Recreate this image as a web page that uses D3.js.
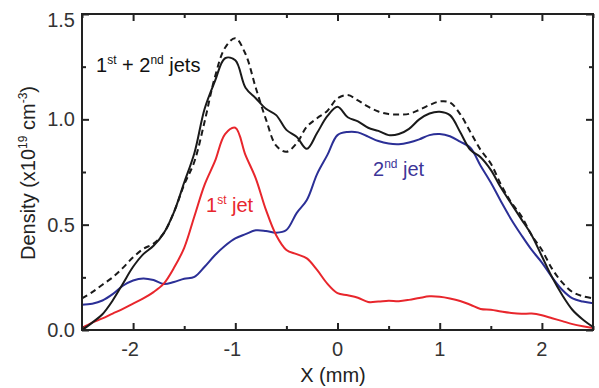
<!DOCTYPE html>
<html>
<head>
<meta charset="utf-8">
<script src="https://cdn.jsdelivr.net/npm/d3@7"></script>
<style>
  body { margin: 0; background: #fff; }
  text { font-family: "Liberation Sans", Arial, sans-serif; }
</style>
</head>
<body>
<script>
// chart size
var svgWidth = 599;
var svgHeight = 388;

// x positions (mm), one value every 0.1 mm
var xs = d3.range(51).map(function(i){ return Math.round((-2.5 + i * 0.1) * 10) / 10; });

// 1st jet (red)
var jet1 = [0.01, 0.035, 0.055, 0.078, 0.10, 0.125, 0.15, 0.18, 0.22, 0.295,
            0.39, 0.54, 0.69, 0.80, 0.93, 0.96, 0.83, 0.72, 0.57, 0.45,
            0.38, 0.36, 0.34, 0.285, 0.22, 0.175, 0.165, 0.153, 0.133, 0.135,
            0.139, 0.137, 0.143, 0.152, 0.160, 0.158, 0.150, 0.138, 0.12, 0.10,
            0.096, 0.088, 0.081, 0.077, 0.078, 0.07, 0.056, 0.042, 0.028, 0.018, 0.01];

// 2nd jet (blue)
var jet2 = [0.12, 0.125, 0.14, 0.17, 0.21, 0.235, 0.245, 0.237, 0.218, 0.228,
            0.243, 0.252, 0.30, 0.355, 0.40, 0.435, 0.455, 0.473, 0.470, 0.462,
            0.475, 0.555, 0.617, 0.74, 0.83, 0.925, 0.94, 0.938, 0.918, 0.897,
            0.885, 0.882, 0.89, 0.905, 0.925, 0.93, 0.92, 0.894, 0.865, 0.78,
            0.70, 0.61, 0.525, 0.45, 0.38, 0.32, 0.25, 0.19, 0.15, 0.135, 0.127];

// 1st + 2nd jets measured (solid black)
var both = [0.0, 0.035, 0.075, 0.14, 0.22, 0.30, 0.36, 0.40, 0.46, 0.56,
            0.70, 0.84, 1.05, 1.18, 1.29, 1.28, 1.15, 1.10, 1.05, 1.02,
            0.95, 0.917, 0.86, 0.935, 1.015, 1.06, 1.01, 0.99, 0.96, 0.945,
            0.925, 0.93, 0.955, 1.0, 1.028, 1.036, 1.02, 0.94, 0.855, 0.82,
            0.76, 0.675, 0.60, 0.525, 0.45, 0.35, 0.25, 0.165, 0.095, 0.05, 0.015];

// sum of single jets (dashed black)
var sum = [0.15, 0.18, 0.215, 0.25, 0.295, 0.345, 0.385, 0.41, 0.46, 0.56,
           0.69, 0.80, 0.99, 1.20, 1.34, 1.385, 1.31, 1.15, 1.00, 0.875,
           0.846, 0.886, 0.965, 1.005, 1.04, 1.10, 1.115, 1.09, 1.06, 1.037,
           1.025, 1.023, 1.026, 1.045, 1.068, 1.085, 1.08, 1.025, 0.94, 0.855,
           0.79, 0.69, 0.605, 0.54, 0.45, 0.38, 0.29, 0.225, 0.18, 0.16, 0.15];

var xMajor = [-2, -1, 0, 1, 2];
var xMinor = [-2.5, -1.5, -0.5, 0.5, 1.5, 2.5];
var yMajor = [0, 0.5, 1.0, 1.5];
var yMinor = [0.25, 0.75, 1.25];

// plot box (don't call these top/left, window.top is read only)
var pLeft = 82, pRight = 593, pTop = 14, pBottom = 330;

var svg = d3.select("body")
    .append("svg")
    .attr("width", svgWidth)
    .attr("height", svgHeight);

var x = d3.scaleLinear().domain([-2.5, 2.5]).range([pLeft, pRight]);
var y = d3.scaleLinear().domain([0, 1.5]).range([pBottom, pTop]);

var line = d3.line()
    .x(function(d, i){ return x(xs[i]); })
    .y(function(d){ return y(d); })
    .curve(d3.curveCatmullRom);

//curves
svg.append("path").attr("d", line(jet2))
    .attr("fill", "none").attr("stroke", "#2b2f96").attr("stroke-width", 2);
svg.append("path").attr("d", line(jet1))
    .attr("fill", "none").attr("stroke", "#e8262c").attr("stroke-width", 2);
svg.append("path").attr("d", line(sum))
    .attr("fill", "none").attr("stroke", "#1a1a1a").attr("stroke-width", 2)
    .attr("stroke-dasharray", "6,4");
svg.append("path").attr("d", line(both))
    .attr("fill", "none").attr("stroke", "#1a1a1a").attr("stroke-width", 2);

// axes with inward ticks on all four sides
function ticks(axisFn, scale, vals, len, transform) {
    svg.append("g")
        .attr("transform", transform)
        .call(axisFn(scale).tickValues(vals).tickSize(len).tickFormat(""))
        .call(function(g){ g.select(".domain").remove(); })
        .selectAll("line").attr("stroke", "#222").attr("stroke-width", 2);
}
ticks(d3.axisTop, x, xMajor, 7, "translate(0," + pBottom + ")");
ticks(d3.axisTop, x, xMinor, 4, "translate(0," + pBottom + ")");
ticks(d3.axisBottom, x, xMajor, 7, "translate(0," + pTop + ")");
ticks(d3.axisBottom, x, xMinor, 4, "translate(0," + pTop + ")");
ticks(d3.axisRight, y, yMajor, 7, "translate(" + pLeft + ",0)");
ticks(d3.axisRight, y, yMinor, 4, "translate(" + pLeft + ",0)");
ticks(d3.axisLeft, y, yMajor, 7, "translate(" + pRight + ",0)");
ticks(d3.axisLeft, y, yMinor, 4, "translate(" + pRight + ",0)");

svg.append("rect")
    .attr("x", pLeft).attr("y", pTop)
    .attr("width", pRight - pLeft).attr("height", pBottom - pTop)
    .attr("fill", "none").attr("stroke", "#222").attr("stroke-width", 2);

// tick labels
svg.selectAll(".xl").data(xMajor).enter().append("text")
    .attr("x", function(d){ return x(d) - (d < 0 ? 3 : 0); })
    .attr("y", 356)
    .attr("text-anchor", "middle")
    .attr("font-size", 20).attr("fill", "#333")
    .text(function(d){ return d < 0 ? "-" + Math.abs(d) : d; });

svg.selectAll(".yl").data(yMajor).enter().append("text")
    .attr("x", 75)
    .attr("y", function(d){ return d == 1.5 ? y(d) + 13 : y(d) + 7; })
    .attr("text-anchor", "end")
    .attr("font-size", 20).attr("fill", "#333")
    .text(function(d){ return d.toFixed(1); });

// axis titles
svg.append("text")
    .attr("x", 333).attr("y", 382)
    .attr("text-anchor", "middle")
    .attr("font-size", 20).attr("fill", "#222")
    .text("X (mm)");

var yt = svg.append("text")
    .attr("transform", "translate(35,173) rotate(-90)")
    .attr("text-anchor", "middle")
    .attr("font-size", 20).attr("fill", "#222");
yt.append("tspan").text("Density (x10");
yt.append("tspan").attr("font-size", 12).attr("dy", -8).text("19");
yt.append("tspan").attr("dy", 8).text(" cm");
yt.append("tspan").attr("font-size", 12).attr("dy", -8).text("-3");
yt.append("tspan").attr("dy", 8).text(")");

// curve labels
function label(px, py, color, parts) {
    var t = svg.append("text").attr("x", px).attr("y", py)
        .attr("font-size", 20).attr("fill", color);
    parts.forEach(function(p){
        if (p[1]) {
            t.append("tspan").attr("font-size", 12).attr("dy", -8).text(p[0]);
        } else {
            t.append("tspan").attr("dy", p[2] || 0).text(p[0]);
        }
    });
}
label(96, 72, "#111", [["1"], ["st", true], [" + 2", false, 8], ["nd", true], [" jets", false, 8]]);
label(206, 212, "#e8262c", [["1"], ["st", true], [" jet", false, 8]]);
label(373, 176, "#3d3598", [["2"], ["nd", true], [" jet", false, 8]]);
</script>
</body>
</html>
